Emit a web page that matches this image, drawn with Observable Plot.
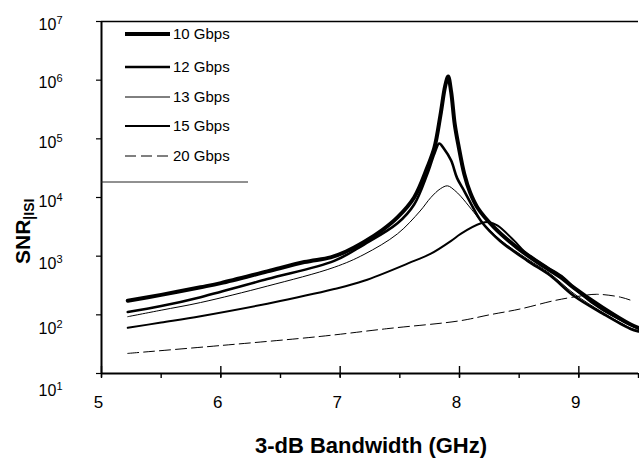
<!DOCTYPE html>
<html><head><meta charset="utf-8">
<script src="https://cdn.jsdelivr.net/npm/d3@7"></script>
<script src="https://cdn.jsdelivr.net/npm/@observablehq/plot@0.6"></script>
<style>
body{margin:0;background:#fff}
#chart{position:relative;width:639px;height:459px}
</style>
</head><body><div id="chart"></div>
<script>
// ---- data ----
const seriesNames = ["10 Gbps", "12 Gbps", "13 Gbps", "15 Gbps", "20 Gbps"];

const bw10  = [5.22, 5.5, 5.83, 6.0, 6.39, 6.7, 6.92, 7.05, 7.2, 7.35, 7.48, 7.62, 7.73, 7.79, 7.84, 7.88, 7.905, 7.93, 7.96, 7.99, 8.04, 8.09, 8.15, 8.29, 8.48, 8.68, 8.85, 8.96, 9.2, 9.43, 9.5];
const snr10 = [174, 219, 295, 347, 550, 794, 955, 1200, 1740, 2750, 4570, 10000, 32400, 70800, 251000, 794000, 1150000, 631000, 178000, 79400, 25100, 12000, 6760, 3090, 1410, 724, 437, 288, 132, 69, 60];

const bw12  = [5.22, 5.5, 5.83, 6.39, 6.95, 7.2, 7.48, 7.62, 7.73, 7.79, 7.83, 7.87, 7.93, 7.98, 8.04, 8.10, 8.18, 8.34, 8.57, 8.76, 8.96, 9.2, 9.43, 9.5];
const snr12 = [112, 141, 200, 407, 832, 1580, 3630, 7590, 25100, 56200, 83200, 67600, 42700, 21400, 12900, 7590, 3980, 1820, 832, 468, 209, 105, 58, 52];

const bw13  = [5.22, 5.5, 5.83, 6.39, 6.95, 7.2, 7.48, 7.67, 7.76, 7.84, 7.90, 7.96, 8.01, 8.10, 8.18, 8.34, 8.57, 8.76, 8.96, 9.2, 9.43, 9.5];
const snr13 = [93, 120, 162, 309, 646, 1070, 2400, 5890, 10000, 14100, 15800, 13200, 10500, 6310, 3980, 1910, 891, 501, 229, 110, 60, 54];

const bw15  = [5.22, 5.5, 5.83, 6.39, 6.95, 7.2, 7.62, 7.76, 7.93, 8.01, 8.18, 8.25, 8.32, 8.46, 8.54, 8.74, 8.87, 8.99, 9.2, 9.43, 9.5];
const snr15 = [60, 74, 95, 155, 275, 380, 832, 1100, 1820, 2400, 3630, 3800, 3310, 1820, 1230, 646, 437, 251, 120, 68, 58];

const bw20  = [5.22, 6.0, 6.84, 7.39, 8.0, 8.25, 8.51, 8.79, 9.01, 9.15, 9.35, 9.46];
const snr20 = [22, 30, 43, 58, 79, 100, 126, 174, 209, 224, 200, 170];

const xTickValues  = [5, 5.5, 6, 6.5, 7, 7.5, 8, 8.5, 9, 9.5];
const xLabelValues = [5, 6, 7, 8, 9];
const yTickValues  = [1e1, 1e2, 1e3, 1e4, 1e5, 1e6, 1e7];

// ---- styles ----
const lineStyle = {
  "10 Gbps": {w: 4,   dash: null},
  "12 Gbps": {w: 2.6, dash: null},
  "13 Gbps": {w: 1,   dash: null},
  "15 Gbps": {w: 2,   dash: null},
  "20 Gbps": {w: 1,   dash: "11,5"}
};
const FONT = "'Liberation Sans', Arial, Helvetica, sans-serif";

const sources = [[bw10, snr10], [bw12, snr12], [bw13, snr13], [bw15, snr15], [bw20, snr20]];
const rows = [];
seriesNames.forEach((name, i) => {
  const [xs, ys] = sources[i];
  xs.forEach((x, j) => rows.push({series: name, bw: x, snr: ys[j]}));
});

const chart = Plot.plot({
  width: 639,
  height: 459,
  marginLeft: 101,
  marginRight: 1,
  marginTop: 21,
  marginBottom: 86,
  style: {fontFamily: FONT, background: "white", color: "black", overflow: "visible"},
  x: {domain: [5, 9.5], label: null},
  y: {type: "log", domain: [10, 1e7], label: null},
  marks: [
    ...seriesNames.map(name => Plot.line(rows.filter(d => d.series === name), {
      x: "bw", y: "snr", stroke: "black",
      strokeWidth: lineStyle[name].w,
      strokeDasharray: lineStyle[name].dash,
      curve: "catmull-rom"
    })),
    Plot.ruleY([1e7], {stroke: "black", strokeWidth: 1.5}),
    Plot.ruleY([10], {stroke: "black", strokeWidth: 2}),
    Plot.ruleX([5], {stroke: "black", strokeWidth: 2}),
    Plot.axisX(xTickValues, {tickSize: 5, strokeWidth: 1.4, stroke: "black", tickFormat: () => "", label: null}),
    Plot.axisX(xLabelValues, {tickSize: 11, dy: -7, strokeWidth: 1.4, stroke: "black", tickFormat: () => "", label: null}),
    Plot.axisX(xLabelValues, {tickSize: 0, tickPadding: 22, fontSize: 17, dx: -3, tickFormat: d => String(d), label: null}),
    Plot.axisY(yTickValues, {tickSize: 5, tickPadding: 34, fontSize: 16, strokeWidth: 1.2, stroke: "black", label: null,
      tickFormat: d => "10^" + Math.round(Math.log10(d))})
  ]
});

document.getElementById("chart").appendChild(chart);

// superscript exponents on y tick labels (+ small nudge as in reference)
const yLabelNudge = {1: 17, 2: 14, 3: 8, 4: 4, 5: 4, 6: 3, 7: 3};
d3.select(chart).selectAll('g[aria-label="y-axis tick label"] text').each(function() {
  const t = d3.select(this);
  const s = t.text();
  const m = s.match(/^10\^(\d+)$/);
  if (!m) return;
  t.text("");
  t.append("tspan").text("10");
  t.append("tspan").attr("dy", "-0.55em").attr("font-size", "11px").text(m[1]);
  const tr = t.attr("transform") || "";
  t.attr("transform", tr + ` translate(0,${yLabelNudge[+m[1]] || 0})`);
});

const svg = d3.select(chart);

// legend
const legendRowsY = [34, 67, 97, 126, 156];
const lg = svg.append("g").attr("font-family", FONT).attr("font-size", 15).attr("text-anchor", "start");
seriesNames.forEach((name, i) => {
  const y = legendRowsY[i];
  lg.append("line")
    .attr("x1", 125).attr("x2", 170).attr("y1", y).attr("y2", y)
    .attr("stroke", "black").attr("stroke-width", lineStyle[name].w)
    .attr("stroke-dasharray", lineStyle[name].dash);
  lg.append("text").attr("x", 173).attr("y", y).attr("dy", "0.35em")
    .attr("text-anchor", "start").attr("fill", "black").text(name);
});
lg.append("line").attr("x1", 101).attr("x2", 248).attr("y1", 182).attr("y2", 182)
  .attr("stroke", "#222").attr("stroke-width", 1);

// axis titles
svg.append("text")
  .attr("x", 371).attr("y", 453).attr("text-anchor", "middle")
  .attr("font-family", FONT).attr("font-size", 22).attr("font-weight", "bold").attr("fill", "black")
  .text("3-dB Bandwidth (GHz)");

const yt = svg.append("text")
  .attr("transform", "translate(30,264) rotate(-90)")
  .attr("text-anchor", "start")
  .attr("font-family", FONT).attr("font-weight", "bold").attr("fill", "black");
yt.append("tspan").attr("font-size", 21).text("SNR");
yt.append("tspan").attr("font-size", 14).attr("dy", 4).text("|ISI");
</script>
</body></html>
